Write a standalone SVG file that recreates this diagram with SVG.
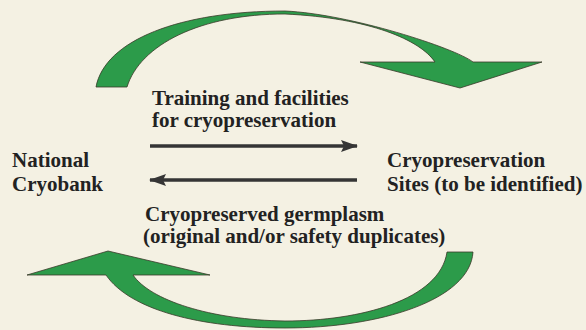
<svg xmlns="http://www.w3.org/2000/svg" width="586" height="330" viewBox="0 0 586 330">
<defs>
<style>
text{font-family:'Liberation Serif',serif;font-weight:700;font-size:21px;fill:#222222}
.g{fill:#2c9b4a;stroke:#3a3a2a;stroke-width:0.8;stroke-linejoin:miter}
.ln{stroke:#353535;stroke-width:3.4;fill:none}
</style>
<marker id="ah" viewBox="0 0 17 12" refX="16" refY="6" markerWidth="17" markerHeight="12" markerUnits="userSpaceOnUse" orient="auto">
<path d="M0,0 L17,6 L0,12 L3,6 Z" fill="#353535"/>
</marker>
</defs>
<rect width="586" height="330" fill="#f4f1e3"/>
<g id="cycle-arrows">
<path id="top-arrow" class="g" d="M96,87 C105,40 180,11 285,11 C350,14 455,48 473,62 L542,62 L460,88 L360,62 L435,62 C420,40 370,18 285,14 C200,14 140,45 127,87 Z"/>
<path id="bottom-arrow" class="g" d="M473,252 C470,300 380,328 285,328 C200,328 130,310 106,275 L27,275 L108,251 L210,275 L133,275 C150,300 210,320 285,321 C360,321 440,300 447,252 Z"/>
</g>
<g id="connectors">
<line class="ln" x1="150" y1="146" x2="357" y2="146" marker-end="url(#ah)"/>
<line class="ln" x1="357" y1="180" x2="150" y2="180" marker-end="url(#ah)"/>
</g>
<g id="national-cryobank" font-family="Liberation Serif">
<text x="12" y="167">National</text>
<text x="12" y="191">Cryobank</text>
</g>
<g id="cryo-sites">
<text x="387" y="167">Cryopreservation</text>
<text x="387" y="191">Sites (to be identified)</text>
</g>
<g id="label-training">
<text x="152" y="105">Training and facilities</text>
<text x="152" y="127">for cryopreservation</text>
</g>
<g id="label-germplasm">
<text x="145" y="221">Cryopreserved germplasm</text>
<text x="143" y="243">(original and/or safety duplicates)</text>
</g>
</svg>
